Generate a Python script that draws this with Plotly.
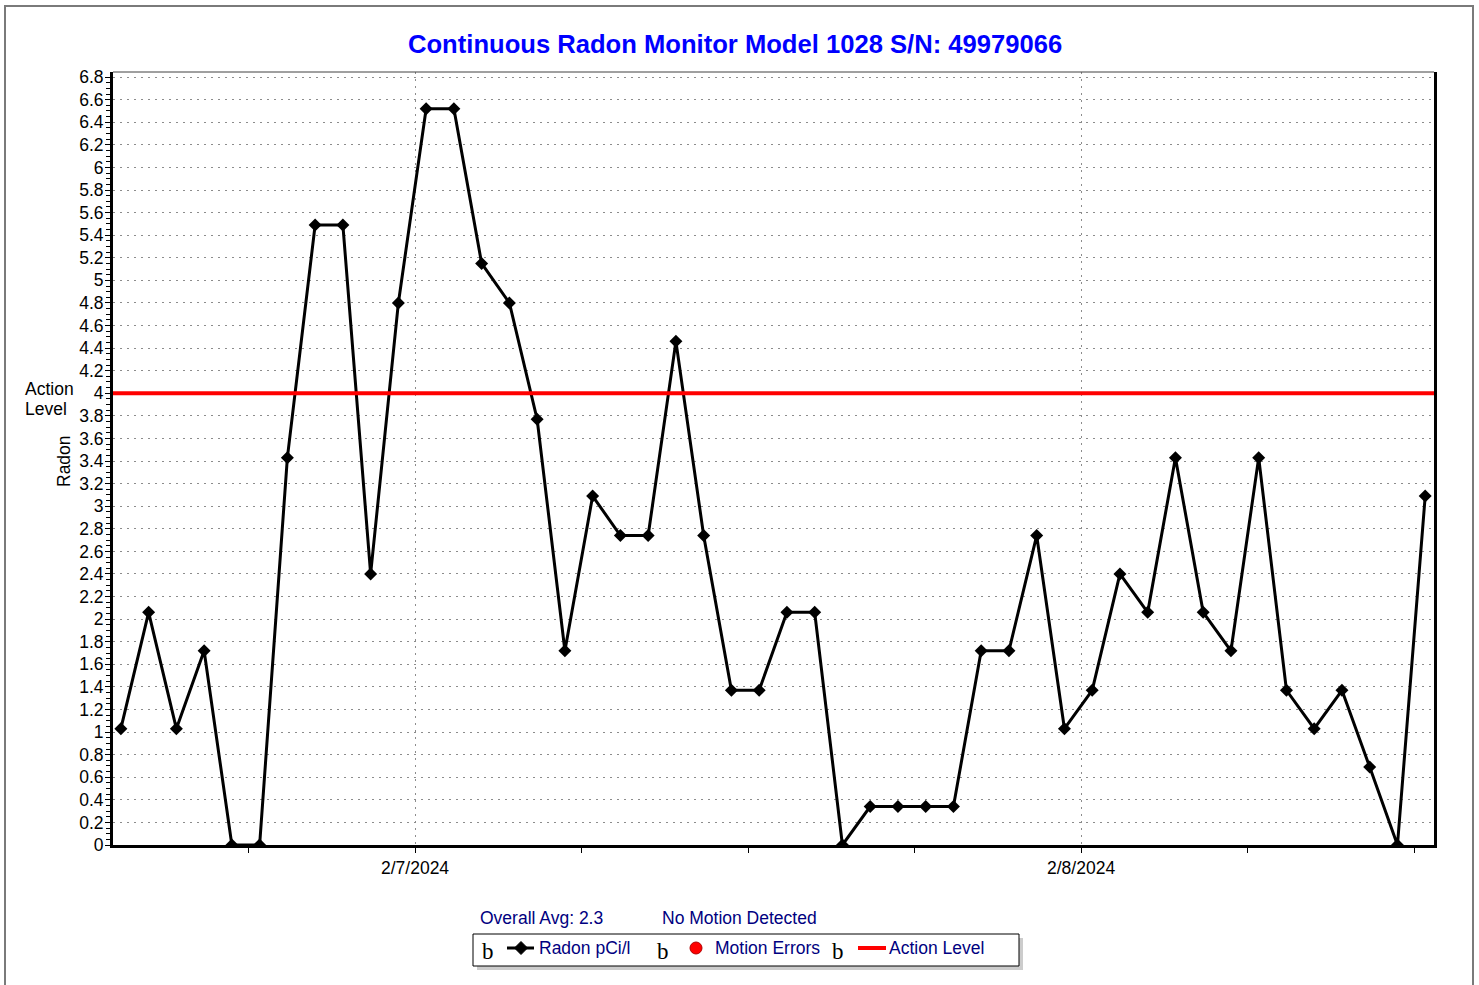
import pandas as pd
import plotly.graph_objects as go

# ---------------- data ----------------
start_time = "2024-02-06 13:24"          # first hourly reading
radon_pci_l = [1.03, 2.06, 1.03, 1.72, 0.00, 0.00, 3.43, 5.49, 5.49, 2.40,
               4.80, 6.52, 6.52, 5.15, 4.80, 3.77, 1.72, 3.09, 2.74, 2.74,
               4.46, 2.74, 1.37, 1.37, 2.06, 2.06, 0.00, 0.34, 0.34, 0.34,
               0.34, 1.72, 1.72, 2.74, 1.03, 1.37, 2.40, 2.06, 3.43, 2.06,
               1.72, 3.43, 1.37, 1.03, 1.37, 0.69, 0.00, 3.09]
times = pd.date_range(start_time, periods=len(radon_pci_l), freq="h")
action_level = 4.0
x_range = ["2024-02-06 13:07", "2024-02-08 12:43"]
y_range = [0, 6.845]
title_text = "Continuous Radon Monitor Model 1028 S/N: 49979066"
avg_text = "Overall Avg: 2.3"
motion_text = "No Motion Detected"
legend_names = ["Radon pCi/l", "Motion Errors", "Action Level"]

# ---------------- geometry helpers (page pixels -> paper) ----------------
W, H = 1479, 985
L, R, T, B = 113, 1434, 72, 845
def px(x):
    return (x - L) / (R - L)
def py(y):
    return (B - y) / (B - T)

FONT = "Liberation Sans, Arial, sans-serif"
NAVY = "#000080"
FS = 17.5

fig = go.Figure()
fig.add_trace(go.Scatter(
    x=times, y=radon_pci_l, mode="lines+markers",
    line=dict(color="black", width=3),
    marker=dict(symbol="diamond", size=10, color="black"),
    name=legend_names[0], showlegend=False))

shapes = []
# action level line
shapes.append(dict(type="line", xref="paper", yref="y", x0=0, x1=1,
                   y0=action_level, y1=action_level,
                   line=dict(color="#ff0000", width=4), layer="above"))
# thin top border of plot
shapes.append(dict(type="line", xref="paper", yref="paper", x0=0, x1=1, y0=1, y1=1,
                   line=dict(color="#404040", width=1)))
# outer frame
shapes.append(dict(type="rect", xref="paper", yref="paper",
                   x0=px(5), x1=px(1473), y0=py(1005), y1=py(6),
                   line=dict(color="#7a7a7a", width=2)))
# legend box with shadow
shapes.append(dict(type="rect", xref="paper", yref="paper",
                   x0=px(477), x1=px(1023), y0=py(970), y1=py(938),
                   fillcolor="#cccccc", line=dict(width=0)))
shapes.append(dict(type="rect", xref="paper", yref="paper",
                   x0=px(473), x1=px(1019), y0=py(966), y1=py(934),
                   fillcolor="white", line=dict(color="black", width=1)))
# legend symbol: line with diamond
shapes.append(dict(type="line", xref="paper", yref="paper",
                   x0=px(507), x1=px(534), y0=py(948), y1=py(948),
                   line=dict(color="black", width=3)))
cx, cy, d = 521, 948, 6.5
shapes.append(dict(type="path", xref="paper", yref="paper",
                   path=f"M {px(cx-d)} {py(cy)} L {px(cx)} {py(cy-d)} L {px(cx+d)} {py(cy)} L {px(cx)} {py(cy+d)} Z",
                   fillcolor="black", line=dict(color="black", width=1)))
# legend symbol: red circle
shapes.append(dict(type="circle", xref="paper", yref="paper",
                   x0=px(690), x1=px(702), y0=py(954), y1=py(942),
                   fillcolor="#ff0000", line=dict(color="#b00000", width=1)))
# legend symbol: red line
shapes.append(dict(type="line", xref="paper", yref="paper",
                   x0=px(858), x1=px(886), y0=py(948), y1=py(948),
                   line=dict(color="#ff0000", width=4)))

ann = []
def text(t, x, y, size=FS, color="black", xanchor="left", family=FONT, angle=0):
    ann.append(dict(text=t, xref="paper", yref="paper", x=px(x), y=py(y),
                    xanchor=xanchor, yanchor="middle", showarrow=False,
                    textangle=angle, borderpad=0,
                    font=dict(family=family, size=size, color=color)))

text("<b>" + title_text + "</b>", 735, 44, size=25.6, color="#0000ff", xanchor="center")
text("Action", 24, 388.5)
text("Level", 24, 408.5)
text("Radon", 64, 461, xanchor="center", angle=-90)
text(avg_text, 479, 918, color=NAVY)
text(motion_text, 661, 918, color=NAVY)
for gx in (488, 663, 838):
    text("b", gx, 951, size=23, xanchor="center", family="Liberation Serif, serif")
text(legend_names[0], 538, 948, color=NAVY)
text(legend_names[1], 714, 948, color=NAVY)
text(legend_names[2], 888, 948, color=NAVY)

grid = dict(gridcolor="#8c8c8c", gridwidth=1, griddash="2px,5px")

fig.update_layout(
    width=W, height=H,
    margin=dict(l=L, r=W - R, t=T, b=H - B, pad=0),
    paper_bgcolor="white", plot_bgcolor="white",
    showlegend=False,
    shapes=shapes, annotations=ann,
    font=dict(family=FONT, color="black"),
    xaxis=dict(type="date", range=x_range, showgrid=True, **grid,
               tick0="2024-02-07", dtick=86400000, tickformat="%-m/%-d/%Y",
               ticks="outside", ticklen=5, tickwidth=1, tickcolor="black",
               ticklabelstandoff=0,
               tickfont=dict(family=FONT, size=FS, color="black"),
               showline=True, linewidth=3, linecolor="black", mirror=False,
               zeroline=False,
               minor=dict(tick0="2024-02-07", dtick=21600000, ticks="outside",
                          ticklen=5, tickwidth=1, tickcolor="black", showgrid=False)),
    yaxis=dict(range=y_range, showgrid=True, **grid,
               tick0=0, dtick=0.2,
               ticks="outside", ticklen=5, tickwidth=1, tickcolor="black",
               ticklabelstandoff=-2,
               tickfont=dict(family=FONT, size=FS, color="black"),
               showline=True, linewidth=3, linecolor="black", mirror=True,
               zeroline=False,
               minor=dict(tick0=0, dtick=0.05, ticks="outside", ticklen=4,
                          tickwidth=1, tickcolor="black", showgrid=False)),
)

fig.write_html("out.html", config={"displayModeBar": False},
               post_script="document.body.style.margin='0';document.body.style.overflow='hidden';")
